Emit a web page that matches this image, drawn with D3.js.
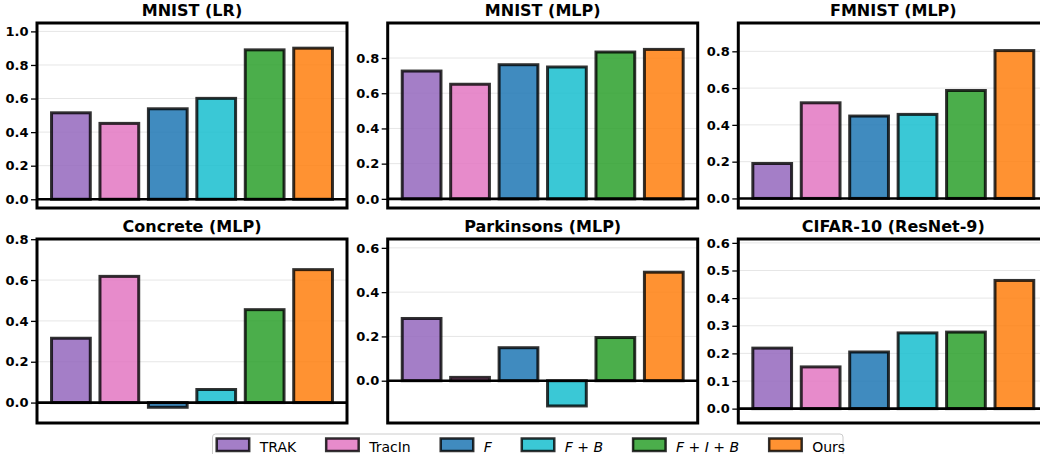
<!DOCTYPE html>
<html>
<head>
<meta charset="utf-8">
<script src="https://cdn.jsdelivr.net/npm/d3@7"></script>
<style>
  html, body { margin: 0; padding: 0; background: #ffffff; }
  svg { display: block; font-family: "DejaVu Sans", sans-serif; }
</style>
</head>
<body>
<script>
// ---------- data ----------
const categories = ["TRAK", "TracIn", "F", "F + B", "F + I + B", "Ours"];
const colors = ["#9467bd", "#e377c2", "#1f77b4", "#17becf", "#2ca02c", "#ff7f0e"];
const panelTitles = ["MNIST (LR)", "MNIST (MLP)", "FMNIST (MLP)",
                     "Concrete (MLP)", "Parkinsons (MLP)", "CIFAR-10 (ResNet-9)"];
const mnistLR      = [0.515, 0.452, 0.539, 0.601, 0.890, 0.900];
const mnistMLP     = [0.726, 0.651, 0.762, 0.749, 0.834, 0.849];
const fmnistMLP    = [0.190, 0.520, 0.448, 0.457, 0.587, 0.804];
const concreteMLP  = [0.315, 0.618, -0.023, 0.064, 0.455, 0.651];
const parkinsonsMLP= [0.281, 0.015, 0.149, -0.114, 0.195, 0.490];
const cifarResNet  = [0.219, 0.151, 0.205, 0.274, 0.277, 0.464];
const panelValues = [mnistLR, mnistMLP, fmnistMLP, concreteMLP, parkinsonsMLP, cifarResNet];
const tickSteps = [0.2, 0.2, 0.2, 0.2, 0.2, 0.1];

// ---------- layout ----------
const W = 1040, H = 454;
const panelW = 310;
const colX = [37, 387.7, 738.3];
const rowY = [[23, 208], [239, 423]];

const svg = d3.select("body").append("svg")
  .attr("width", W).attr("height", H);

panelValues.forEach((vals, i) => {
  const col = i % 3, row = Math.floor(i / 3);
  const x0 = colX[col], x1 = x0 + panelW;
  const [yTop, yBot] = rowY[row];
  const vMax = d3.max(vals), vMin = d3.min(vals);
  const lo = vMin < 0 ? vMin - 0.077 : -0.052;
  const hi = vMax + 0.15;

  const x = d3.scaleLinear().domain([-0.7, categories.length - 0.3]).range([x0, x1]);
  const y = d3.scaleLinear().domain([lo, hi]).range([yBot, yTop]);
  const step = tickSteps[i];
  const ticks = d3.range(0, Math.floor(hi / step + 1e-6) + 1).map(k => +(k * step).toFixed(2)).filter(t => t <= hi);

  const g = svg.append("g");

  // gridlines
  g.selectAll("line.grid").data(ticks).join("line")
    .attr("x1", x0).attr("x2", x1)
    .attr("y1", d => y(d)).attr("y2", d => y(d))
    .attr("stroke", "#e6e6e6").attr("stroke-width", 1);

  // bars
  g.selectAll("rect.bar").data(vals).join("rect")
    .attr("x", (d, j) => x(j - 0.4))
    .attr("width", x(0.8) - x(0))
    .attr("y", d => y(Math.max(0, d)))
    .attr("height", d => Math.abs(y(d) - y(0)))
    .attr("fill", (d, j) => colors[j]).attr("fill-opacity", 0.85)
    .attr("stroke", "#000").attr("stroke-opacity", 0.8)
    .attr("stroke-width", 3);

  // zero line
  g.append("line")
    .attr("x1", x0).attr("x2", x1)
    .attr("y1", y(0)).attr("y2", y(0))
    .attr("stroke", "#000").attr("stroke-width", 2.6);

  // frame
  g.append("rect")
    .attr("x", x0).attr("y", yTop)
    .attr("width", panelW).attr("height", yBot - yTop)
    .attr("fill", "none").attr("stroke", "#000").attr("stroke-width", 3);

  // axis
  const ax = g.append("g").attr("transform", `translate(${x0},0)`)
    .call(d3.axisLeft(y).tickValues(ticks).tickFormat(d3.format(".1f"))
      .tickSize(6).tickPadding(2.5));
  ax.select(".domain").remove();
  ax.selectAll(".tick line").attr("stroke", "#000").attr("stroke-width", 1.3);
  ax.selectAll(".tick text")
    .attr("fill", "#000")
    .style("font-family", "DejaVu Sans")
    .style("font-size", "13px")
    .style("font-weight", "bold");

  // title
  g.append("text")
    .attr("x", (x0 + x1) / 2).attr("y", yTop - 7)
    .attr("text-anchor", "middle")
    .style("font-size", "16px").style("font-weight", "bold")
    .text(panelTitles[i]);
});

// ---------- legend ----------
const leg = svg.append("g");
const legBox = leg.append("rect")
  .attr("x", 212.5).attr("y", 434).attr("width", 630.5).attr("height", 30)
  .attr("rx", 3).attr("ry", 3)
  .attr("fill", "#fff").attr("fill-opacity", 0.8)
  .attr("stroke", "#cccccc").attr("stroke-width", 1);

let lx = 216.7;
categories.forEach((c, j) => {
  leg.append("rect")
    .attr("x", lx).attr("y", 438.5)
    .attr("width", 32.5).attr("height", 12.5)
    .attr("fill", colors[j]).attr("fill-opacity", 0.85)
    .attr("stroke", "#000").attr("stroke-opacity", 0.8).attr("stroke-width", 2.5);
  const t = leg.append("text")
    .attr("x", lx + 43).attr("y", 451.5)
    .style("font-size", "14px");
  if (j >= 2 && j <= 4) {
    const parts = c.split(" ");
    parts.forEach((p, k) => {
      const ts = t.append("tspan").text((k > 0 ? "\u00a0" : "") + p);
      if (p !== "+") ts.style("font-style", "italic");
    });
  } else {
    t.text(c);
  }
  const tw = t.node().getComputedTextLength();
  lx = lx + 43 + tw + 30;
});
</script>
</body>
</html>
